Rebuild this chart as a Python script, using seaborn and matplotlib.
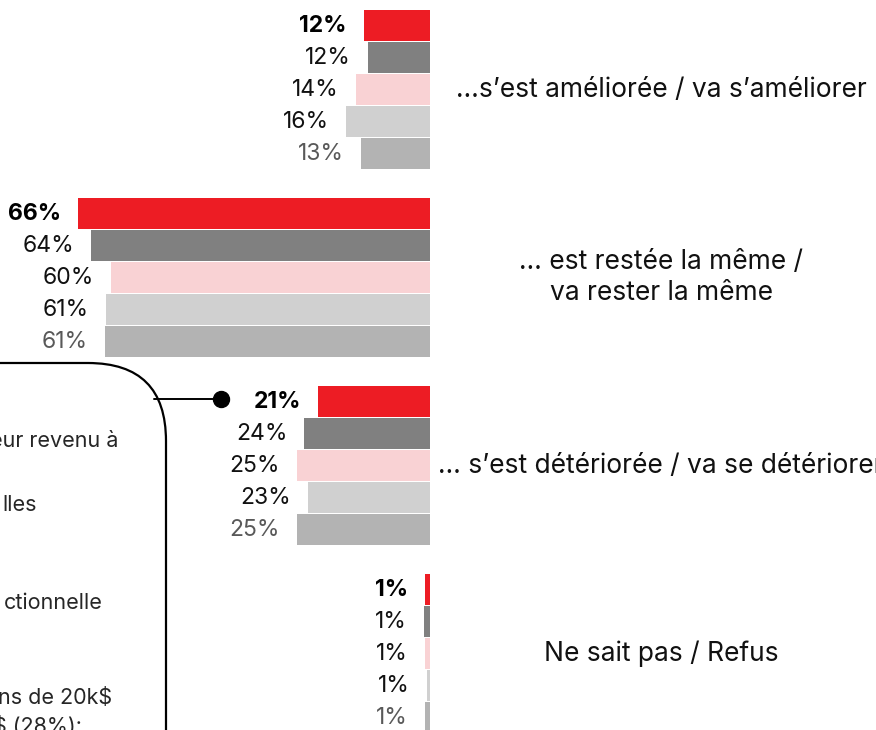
import matplotlib
matplotlib.use("Agg")
import matplotlib.pyplot as plt
import matplotlib.transforms as mtransforms
from matplotlib.patches import FancyBboxPatch
import seaborn as sns
import pandas as pd

# ---------------- data ----------------
categories = [
    "…s’est améliorée / va s’améliorer",
    "… est restée la même /\nva rester la même",
    "… s’est détériorée / va se détériorer",
    "Ne sait pas / Refus",
]
series = ["Série 1", "Série 2", "Série 3", "Série 4", "Série 5"]
values_ameliore = [12.4, 11.7, 13.9, 15.8, 13.0]
values_meme = [66.2, 63.7, 60.0, 60.9, 61.1]
values_deteriore = [21.0, 23.6, 25.0, 22.9, 25.0]
values_nsp = [0.9, 1.2, 1.0, 0.6, 0.9]

bar_colors = ["#ED1C24", "#808080", "#F9D2D4", "#D0D0D0", "#B3B3B3"]
label_colors = ["#000000", "#111111", "#111111", "#111111", "#595959"]
label_weights = ["bold", "normal", "normal", "normal", "normal"]

box_fragments = ["eur revenu à", "lles", "ctionnelle", "ns de 20k$", "$ (28%):"]

# ---------------- build table ----------------
all_values = [values_ameliore, values_meme, values_deteriore, values_nsp]
group_step = 5.875  # row units between group starts
rows = []
for gi, (cat, vals) in enumerate(zip(categories, all_values)):
    for si, (s, v) in enumerate(zip(series, vals)):
        rows.append({"categorie": cat, "serie": s, "valeur": v,
                     "pos": gi * group_step + si, "si": si, "gi": gi})
df = pd.DataFrame(rows)

# ---------------- figure ----------------
sns.set_theme(style="white")
plt.rcParams["font.family"] = ["Inter", "DejaVu Sans"]

W, H, DPI = 876, 730, 100
fig = plt.figure(figsize=(W / DPI, H / DPI), dpi=DPI)
fig.patch.set_facecolor("white")

zero_px = 430
px_per_pct = 5.32
ax = fig.add_axes([0, 0, zero_px / W, 1])
sns.barplot(data=df, x="valeur", y="pos", hue="serie", orient="h",
            native_scale=True, dodge=False, width=0.97,
            palette=dict(zip(series, bar_colors)), saturation=1,
            linewidth=0, legend=False, ax=ax)
ax.set_xlim(zero_px / px_per_pct, 0)
top_off = 25.5 / 32
ax.set_ylim(-top_off + H / 32, -top_off)
ax.axis("off")

# value labels
for _, r in df.iterrows():
    ax.annotate(f"{r['valeur']:.0f}%", xy=(r["valeur"], r["pos"]),
                xytext=(-12.3, 0), textcoords="offset points",
                ha="right", va="center", fontsize=16.5,
                color=label_colors[r["si"]], fontweight=label_weights[r["si"]],
                annotation_clip=False)

# category labels
blend = mtransforms.blended_transform_factory(fig.transFigure, ax.transData)
for gi, cat in enumerate(categories):
    yc = gi * group_step + 2
    ax.text(661 / W, yc, cat, transform=blend, ha="center", va="center",
            fontsize=19, color="#111111", linespacing=1.25, clip_on=False)

# overlay in pixel coordinates for the call-out box
ov = fig.add_axes([0, 0, 1, 1], zorder=-1)
ov.set_xlim(0, W)
ov.set_ylim(H, 0)
ov.axis("off")
box = FancyBboxPatch((-300, 363), 466, 700,
                     boxstyle="round,pad=0,rounding_size=78",
                     fc="none", ec="black", lw=1.6)
ov.add_patch(box)
ov.plot([154, 221], [399, 399], color="black", lw=1.4)
ov.plot([221], [399], "o", color="black", ms=11.5)

frag_pos = [(118, 441), (37, 505), (103, 603), (112, 698), (82, 727)]
for txt, (xr, yc) in zip(box_fragments, frag_pos):
    ov.text(xr, yc, txt, ha="right", va="center", fontsize=15.5,
            color="#262626")

fig.savefig("out.png", dpi=DPI, facecolor="white")
